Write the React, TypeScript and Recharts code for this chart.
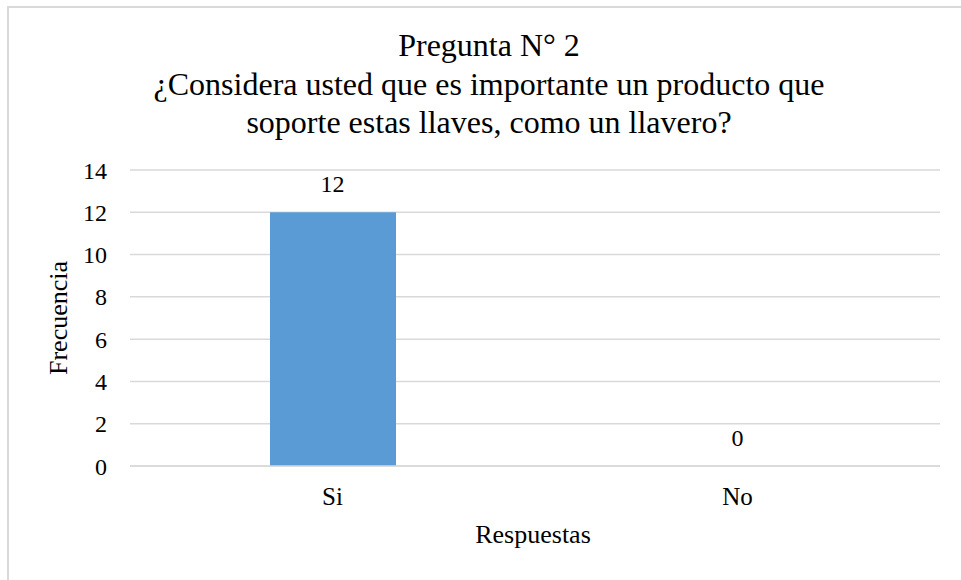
import { BarChart, Bar, XAxis, YAxis, CartesianGrid, ReferenceDot } from 'recharts';

const categorias = ['Si', 'No'];
const frecuencias = [12, 0];
const ticksY = [0, 2, 4, 6, 8, 10, 12, 14];
const tituloLineas = [
  'Pregunta N° 2',
  '¿Considera usted que es importante un producto que',
  'soporte estas llaves, como un llavero?',
];

const data = categorias.map((c, i) => ({ respuesta: c, frecuencia: frecuencias[i] }));

const serif = 'Liberation Serif';
const gris = '#d9d9d9';

export default function App() {
  return (
    <div style={{ position: 'absolute', left: 0, top: 0, width: 961, height: 580, background: '#fff', fontFamily: serif }}>
      <div
        style={{
          position: 'absolute',
          left: 7,
          top: 6,
          width: 954,
          height: 574,
          borderTop: `2px solid ${gris}`,
          borderLeft: `2px solid ${gris}`,
          boxSizing: 'border-box',
        }}
      />
      <svg width={961} height={150} style={{ position: 'absolute', left: 0, top: 0 }}>
        {tituloLineas.map((l, i) => (
          <text key={l} x={489} y={56 + i * 38.5} textAnchor="middle" fontFamily={serif} fontSize={32} fill="#000">
            {l}
          </text>
        ))}
      </svg>
      <BarChart
        width={961}
        height={580}
        data={data}
        margin={{ top: 170, right: 21, left: 0, bottom: 0 }}
        style={{ position: 'absolute', left: 0, top: 0, fontFamily: serif }}
      >
        <CartesianGrid vertical={false} stroke={gris} strokeWidth={1.5} />
        <XAxis
          dataKey="respuesta"
          axisLine={{ stroke: gris, strokeWidth: 1.5 }}
          tickLine={false}
          tickSize={0}
          tickMargin={21}
          height={114}
          tick={{ fill: '#000', fontSize: 25, fontFamily: serif }}
          label={(props: any) => {
            const vb = props.viewBox;
            return (
              <text x={vb.x + vb.width / 2 - 2} y={543} textAnchor="middle" fill="#000" fontSize={26} fontFamily={serif}>
                Respuestas
              </text>
            );
          }}
        />
        <YAxis
          domain={[0, 14]}
          ticks={ticksY}
          width={130}
          axisLine={false}
          tickLine={false}
          tickSize={0}
          tickMargin={23}
          tick={{ fill: '#000', fontSize: 24, fontFamily: serif }}
          label={(props: any) => {
            const vb = props.viewBox;
            const cy = vb.y + vb.height / 2;
            return (
              <text
                x={58}
                y={cy}
                transform={`rotate(-90 58 ${cy})`}
                textAnchor="middle"
                dominantBaseline="central"
                fill="#000"
                fontSize={26}
                fontFamily={serif}
              >
                Frecuencia
              </text>
            );
          }}
        />
        <Bar dataKey="frecuencia" fill="#5B9BD5" barSize={126} isAnimationActive={false} />
        {data.map((d) => (
          <ReferenceDot
            key={d.respuesta}
            x={d.respuesta}
            y={d.frecuencia}
            r={0}
            fill="none"
            stroke="none"
            label={{ value: d.frecuencia, position: 'top', offset: 20, fill: '#000', fontSize: 24, fontFamily: serif }}
          />
        ))}
      </BarChart>
    </div>
  );
}
